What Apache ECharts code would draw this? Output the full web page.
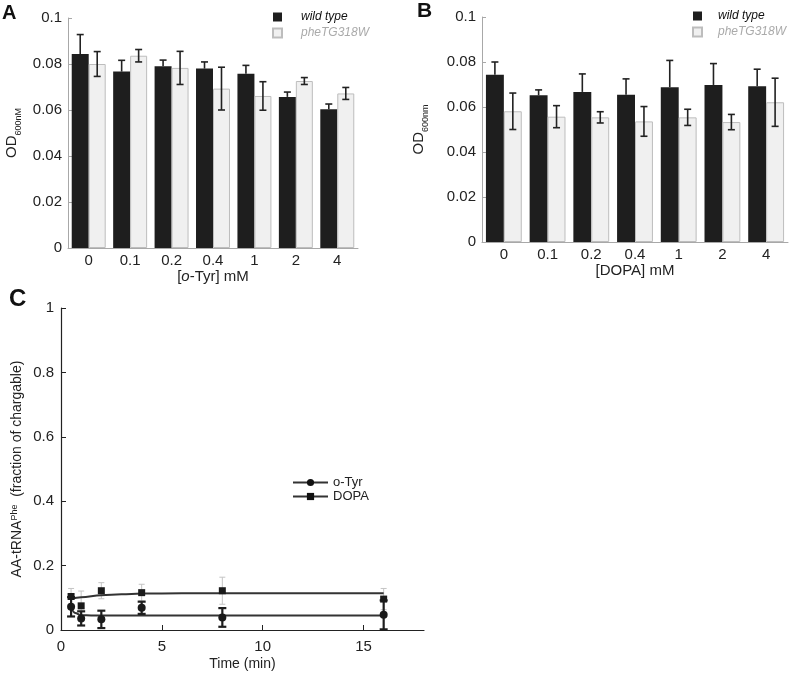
<!DOCTYPE html>
<html><head><meta charset="utf-8">
<script src="https://cdn.jsdelivr.net/npm/echarts@6/dist/echarts.min.js"></script>
<style>html,body{margin:0;padding:0;background:#fff}#c{width:790px;height:675px}</style>
</head><body><div id="c"></div>
<script>
// ---------- data ----------
var concCats = ['0', '0.1', '0.2', '0.4', '1', '2', '4'];
var seriesNames = ['wild type', 'pheTG318W'];
// Panel A : o-Tyr
var aWild = [0.0843, 0.0767, 0.0790, 0.0780, 0.0758, 0.0657, 0.0603];
var aWildErr = [0.0085, 0.0049, 0.0027, 0.0029, 0.0036, 0.0021, 0.0023];
var aMut = [0.0800, 0.0836, 0.0783, 0.0693, 0.0661, 0.0726, 0.0672];
var aMutErr = [0.0054, 0.0027, 0.0072, 0.0093, 0.0062, 0.0015, 0.0026];
// Panel B : DOPA
var bWild = [0.0743, 0.0652, 0.0667, 0.0655, 0.0688, 0.0698, 0.0692];
var bWildErr = [0.0057, 0.0024, 0.0080, 0.0070, 0.0119, 0.0095, 0.0076];
var bMut = [0.0581, 0.0557, 0.0554, 0.0536, 0.0554, 0.0533, 0.0621];
var bMutErr = [0.0081, 0.0049, 0.0025, 0.0066, 0.0036, 0.0034, 0.0107];
// Panel C : time course
var timePts = [0.5, 1, 2, 4, 8, 16];
var tyrVals = [0.072, 0.036, 0.033, 0.069, 0.039, 0.047];
var tyrErr = [0.030, 0.022, 0.027, 0.019, 0.029, 0.045];
var dopaVals = [0.104, 0.075, 0.122, 0.116, 0.122, 0.096];
var dopaErr = [0.025, 0.046, 0.025, 0.026, 0.042, 0.033];
// fitted curves
var tyrFitT = [0.5, 0.7, 1, 1.5, 3, 16];
var tyrFitY = [0.070, 0.053, 0.046, 0.045, 0.045, 0.045];
var dopaFitT = [0.5, 1, 2, 3, 4, 6, 16];
var dopaFitY = [0.097, 0.102, 0.108, 0.111, 0.113, 0.114, 0.114];
// axis ticks
var odTicks = [0, 0.02, 0.04, 0.06, 0.08, 0.1];
var fracTicks = [0, 0.2, 0.4, 0.6, 0.8, 1];
var timeTicks = [0, 5, 10, 15];
var timeMax = 18;

// ---------- helpers ----------
var FONT = '"Liberation Sans", Arial, Helvetica, sans-serif';
var GAP = 0.18;
var DARK = '#1e1e1e', LIGHT = '#f0f0f0', LIGHTB = '#bdbdbd', AX = '#a8a8a8';

function zip3(a, b) { return a.map(function (v, i) { return [i, v, b[i]]; }); }
function zipXY(x, y) { return x.map(function (v, i) { return [v, y[i]]; }); }
function zipXYE(x, y, e) { return x.map(function (v, i) { return [v, y[i], e[i]]; }); }

function barErr(side, oneSided) {
  return function (params, api) {
    var ci = api.value(0), v = api.value(1), e = api.value(2);
    var band = api.size([1, 0])[0];
    var barW = band * (1 - GAP) / 2;
    var cx = api.coord([ci, 0])[0] + side * barW / 2;
    var yT = api.coord([ci, v + e])[1];
    var yB = api.coord([ci, oneSided ? v : v - e])[1];
    var st = { stroke: '#222', lineWidth: 1.6 };
    var ch = [
      { type: 'line', shape: { x1: cx, y1: yT, x2: cx, y2: yB }, style: st },
      { type: 'line', shape: { x1: cx - 3.5, y1: yT, x2: cx + 3.5, y2: yT }, style: st }
    ];
    if (!oneSided) ch.push({ type: 'line', shape: { x1: cx - 3.5, y1: yB, x2: cx + 3.5, y2: yB }, style: st });
    return { type: 'group', children: ch };
  };
}
function ptErr(color, w, half) {
  return function (params, api) {
    var x = api.value(0), y = api.value(1), e = api.value(2);
    var t = api.coord([x, y + e]), b = api.coord([x, y - e]);
    var st = { stroke: color, lineWidth: w };
    return { type: 'group', children: [
      { type: 'line', shape: { x1: t[0], y1: t[1], x2: b[0], y2: b[1] }, style: st },
      { type: 'line', shape: { x1: t[0] - half, y1: t[1], x2: t[0] + half, y2: t[1] }, style: st },
      { type: 'line', shape: { x1: b[0] - half, y1: b[1], x2: b[0] + half, y2: b[1] }, style: st }
    ] };
  };
}

function catAxis(grid, nameRich, gap) {
  return {
    type: 'category', gridIndex: grid, data: concCats,
    axisLine: { lineStyle: { color: AX, width: 1 } },
    axisTick: { inside: true, length: 4, alignWithLabel: false, lineStyle: { color: AX } },
    axisLabel: { fontSize: 15, color: '#222', fontFamily: FONT, margin: 5 },
    name: nameRich, nameLocation: 'middle', nameGap: gap,
    nameTextStyle: { fontSize: 15, color: '#222', fontFamily: FONT,
      rich: { i: { fontSize: 15, color: '#222', fontStyle: 'italic', fontFamily: FONT } } }
  };
}
function odAxis(grid, sub, gap) {
  return {
    type: 'value', gridIndex: grid, min: odTicks[0], max: odTicks[odTicks.length - 1],
    interval: odTicks[1] - odTicks[0],
    axisLine: { show: true, lineStyle: { color: AX, width: 1 } },
    axisTick: { show: true, inside: true, length: 4, lineStyle: { color: AX } },
    splitLine: { show: false },
    axisLabel: { fontSize: 15, color: '#222', fontFamily: FONT, margin: 6 },
    name: '{a|OD}{b|' + sub + '}', nameLocation: 'middle', nameRotate: 90, nameGap: gap,
    nameTextStyle: { fontFamily: FONT, color: '#222',
      rich: {
        a: { fontSize: 15, color: '#222', fontFamily: FONT, lineHeight: 18, verticalAlign: 'middle' },
        b: { fontSize: 9, color: '#222', fontFamily: FONT, lineHeight: 22, verticalAlign: 'bottom' }
      } }
  };
}
function barLegend(left, top, pad) {
  return {
    orient: 'vertical', left: left, top: top, itemWidth: 9, itemHeight: 9, itemGap: 4,
    padding: 0, icon: 'rect', selectedMode: false,
    textStyle: { fontSize: 12, fontStyle: 'italic', fontFamily: FONT, padding: [0, 0, 0, pad] },
    data: [
      { name: seriesNames[0], textStyle: { color: '#111' } },
      { name: seriesNames[1], textStyle: { color: '#aaaaaa' } }
    ]
  };
}
function barSeries(name, xi, vals, fill) {
  return {
    type: 'bar', name: name, xAxisIndex: xi, yAxisIndex: xi, data: vals,
    barGap: '0%', barCategoryGap: (GAP * 100) + '%',
    itemStyle: fill === DARK ? { color: DARK } : { color: LIGHT, borderColor: LIGHTB, borderWidth: 1 }
  };
}

var chart = echarts.init(document.getElementById('c'), null, { renderer: 'canvas' });
var option = {
  backgroundColor: '#fff',
  animation: false,
  textStyle: { fontFamily: FONT },
  grid: [
    { left: 68, top: 18, width: 290, height: 230 },
    { left: 482, top: 17, width: 306, height: 225 },
    { left: 61, top: 308, width: 363, height: 322 }
  ],
  xAxis: [
    catAxis(0, '[{i|o}-Tyr] mM', 19),
    catAxis(1, '[DOPA] mM', 13),
    {
      type: 'value', gridIndex: 2, min: 0, max: timeMax, interval: timeTicks[1] - timeTicks[0],
      axisLine: { lineStyle: { color: '#222', width: 1.2 } },
      axisTick: { inside: true, length: 5, lineStyle: { color: '#222' } },
      splitLine: { show: false },
      axisLabel: { fontSize: 15, color: '#222', fontFamily: FONT, margin: 9, showMaxLabel: false,
        formatter: function (v) { return timeTicks.indexOf(v) >= 0 ? String(v) : ''; } },
      name: 'Time (min)', nameLocation: 'middle', nameGap: 27,
      nameTextStyle: { fontSize: 14, color: '#222', fontFamily: FONT }
    }
  ],
  yAxis: [
    odAxis(0, '600nM', 45),
    odAxis(1, '600nm', 52),
    {
      type: 'value', gridIndex: 2, min: fracTicks[0], max: fracTicks[fracTicks.length - 1],
      interval: fracTicks[1] - fracTicks[0],
      axisLine: { show: true, lineStyle: { color: '#222', width: 1.2 } },
      axisTick: { show: true, inside: true, length: 5, lineStyle: { color: '#222' } },
      splitLine: { show: false },
      axisLabel: { fontSize: 15, color: '#222', fontFamily: FONT, margin: 7 },
      name: '{a|AA-tRNA}{s|Phe}{a|  (fraction of chargable)}', nameLocation: 'middle',
      nameRotate: 90, nameGap: 27,
      nameTextStyle: { fontFamily: FONT, color: '#222',
        rich: {
          a: { fontSize: 14, color: '#222', fontFamily: FONT, lineHeight: 24, verticalAlign: 'top' },
          s: { fontSize: 9, color: '#222', fontFamily: FONT, lineHeight: 10, verticalAlign: 'top' }
        } }
    }
  ],
  legend: [
    barLegend(272, 11, 14),
    barLegend(692, 10, 11),
    {
      orient: 'vertical', left: 292, top: 476, itemWidth: 35, itemHeight: 9, itemGap: 1,
      padding: 0, selectedMode: false,
      textStyle: { fontSize: 13, color: '#222', fontFamily: FONT },
      data: ['o-Tyr', 'DOPA']
    }
  ],
  graphic: [
    { type: 'text', left: 2, top: 3, style: { text: 'A', fontSize: 20, fontWeight: 'bold', fill: '#111', fontFamily: FONT } },
    { type: 'text', left: 417, top: 1, style: { text: 'B', fontSize: 21, fontWeight: 'bold', fill: '#111', fontFamily: FONT } },
    { type: 'text', left: 9, top: 287, style: { text: 'C', fontSize: 24, fontWeight: 'bold', fill: '#111', fontFamily: FONT } }
  ],
  series: [
    barSeries(seriesNames[0], 0, aWild, DARK),
    barSeries(seriesNames[1], 0, aMut, LIGHT),
    { type: 'custom', xAxisIndex: 0, yAxisIndex: 0, renderItem: barErr(-1, true), data: zip3(aWild, aWildErr), z: 5 },
    { type: 'custom', xAxisIndex: 0, yAxisIndex: 0, renderItem: barErr(1, false), data: zip3(aMut, aMutErr), z: 5 },
    barSeries(seriesNames[0], 1, bWild, DARK),
    barSeries(seriesNames[1], 1, bMut, LIGHT),
    { type: 'custom', xAxisIndex: 1, yAxisIndex: 1, renderItem: barErr(-1, true), data: zip3(bWild, bWildErr), z: 5 },
    { type: 'custom', xAxisIndex: 1, yAxisIndex: 1, renderItem: barErr(1, false), data: zip3(bMut, bMutErr), z: 5 },
    // panel C
    { type: 'custom', xAxisIndex: 2, yAxisIndex: 2, renderItem: ptErr('#c4c4c4', 1, 3), data: zipXYE(timePts, dopaVals, dopaErr), z: 2 },
    { type: 'line', name: 'o-Tyr', xAxisIndex: 2, yAxisIndex: 2, data: zipXY(tyrFitT, tyrFitY),
      smooth: 0.4, smoothMonotone: 'x', showSymbol: false, symbol: 'circle', symbolSize: 7,
      lineStyle: { color: '#333', width: 2 }, itemStyle: { color: '#111' }, z: 3 },
    { type: 'line', name: 'DOPA', xAxisIndex: 2, yAxisIndex: 2, data: zipXY(dopaFitT, dopaFitY),
      smooth: 0.4, smoothMonotone: 'x', showSymbol: false, symbol: 'rect', symbolSize: 7,
      lineStyle: { color: '#333', width: 2 }, itemStyle: { color: '#111' }, z: 3 },
    { type: 'custom', xAxisIndex: 2, yAxisIndex: 2, renderItem: ptErr('#1e1e1e', 2.2, 4), data: zipXYE(timePts, tyrVals, tyrErr), z: 4 },
    { type: 'scatter', name: 'o-Tyr points', xAxisIndex: 2, yAxisIndex: 2, data: zipXY(timePts, tyrVals),
      symbol: 'circle', symbolSize: 8, itemStyle: { color: '#1a1a1a', opacity: 1 }, z: 5 },
    { type: 'scatter', name: 'DOPA points', xAxisIndex: 2, yAxisIndex: 2, data: zipXY(timePts, dopaVals),
      symbol: 'rect', symbolSize: 7, itemStyle: { color: '#1a1a1a', opacity: 1 }, z: 5 }
  ]
};
chart.setOption(option);
</script>
</body></html>
